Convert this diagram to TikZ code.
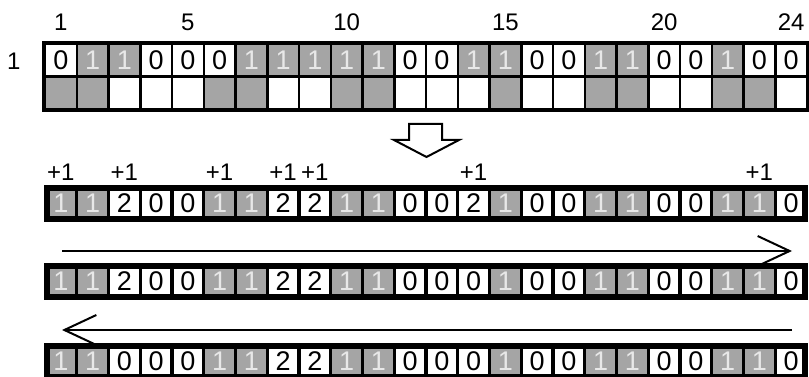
\documentclass[tikz,border=0pt]{standalone}
\usepackage{fontspec}
\setmainfont{Liberation Sans}
\usetikzlibrary{arrows.meta}
\definecolor{cellgray}{RGB}{165,165,165}
\definecolor{lightdigit}{RGB}{232,232,232}
\begin{document}
\begin{tikzpicture}[x=1pt,y=-1pt,
  digit/.style={font=\fontsize{27}{27}\selectfont},
  lbl/.style={font=\fontsize{24}{24}\selectfont, inner sep=0pt},
  % first grid cells
  acell/.style={draw=black, line width=2.5pt, minimum width=31.75pt, minimum height=32.5pt, inner sep=0pt, anchor=center, digit},
  acell0/.style={acell, fill=white, text=black},
  acell1/.style={acell, fill=cellgray, text=lightdigit},
  bcell0/.style={acell, fill=white},
  bcell1/.style={acell, fill=cellgray},
  % framed rows
  ccell/.style={minimum width=28.5pt, minimum height=25pt, inner sep=0pt, anchor=center, digit},
  ccell0/.style={ccell, fill=white, text=black},
  ccell1/.style={ccell, fill=cellgray, text=lightdigit},
  ccell2/.style={ccell, fill=white, text=black},
  flow/.style={line width=2pt, -{Straight Barb[length=32pt, width=30pt]}},
  frame/.style={draw=black, line width=6pt}
]
\useasboundingbox (0,0) rectangle (809,377);

% ---- grid 1 ----
\foreach \v [count=\i] in {0,1,1,0,0,0,1,1,1,1,1,0,0,1,1,0,0,1,1,0,0,1,0,0}{
  \node[acell\v] (r1c\i) at ({45+31.75*(\i-0.5)},60.25) {\v};
}
\foreach \v [count=\i] in {1,1,0,0,0,1,1,0,0,1,1,0,0,0,1,0,0,1,1,0,0,1,1,0}{
  \node[bcell\v] (r1b\i) at ({45+31.75*(\i-0.5)},92.75) {};
}
\draw[line width=3pt] (r1c1.north west) rectangle (r1b24.south east);

% column numbers
\foreach \i in {1,5,10,15,20,24}{
  \node[lbl] (num\i) at (r1c\i.center) [yshift=38pt] {\i};
}
\node[lbl] (rowone) at (r1c1.center) [xshift=-47pt, yshift=-1pt] {1};

% ---- hollow down arrow ----
\draw[line width=2pt, line join=miter] (409,124) -- (442,124) -- (442,140) -- (459,140)
  -- (426.5,157) -- (394,140) -- (409,140) -- cycle;

% ---- framed rows ----
\foreach \row/\yc/\vals in {
  2/203.5/{1,1,2,0,0,1,1,2,2,1,1,0,0,2,1,0,0,1,1,0,0,1,1,0},
  3/281.5/{1,1,2,0,0,1,1,2,2,1,1,0,0,0,1,0,0,1,1,0,0,1,1,0},
  4/361.5/{1,1,0,0,0,1,1,2,2,1,1,0,0,0,1,0,0,1,1,0,0,1,1,0}}{
  \fill[black] (44,\yc-18.5) rectangle (808,\yc+18.5);
  \foreach \v [count=\i] in \vals {
    \node[ccell\v] (r\row c\i) at ({45+31.75*(\i-0.5)},\yc) {\v};
  }
  \draw[frame] (47,\yc-15.5) rectangle (805,\yc+15.5);
}

% +1 labels
\foreach \i in {1,3,6,8,9,14,23}{
  \node[lbl] (plus\i) at (r2c\i.center) [yshift=31.5pt] {+1};
}

% ---- sweep arrows ----
\coordinate (fwdA) at (62,251);
\coordinate (fwdB) at (792,251);
\coordinate (bwdA) at (792,330);
\coordinate (bwdB) at (62,330);
\draw[flow] (fwdA) -- (fwdB);
\draw[flow] (bwdA) -- (bwdB);
\end{tikzpicture}
\end{document}
